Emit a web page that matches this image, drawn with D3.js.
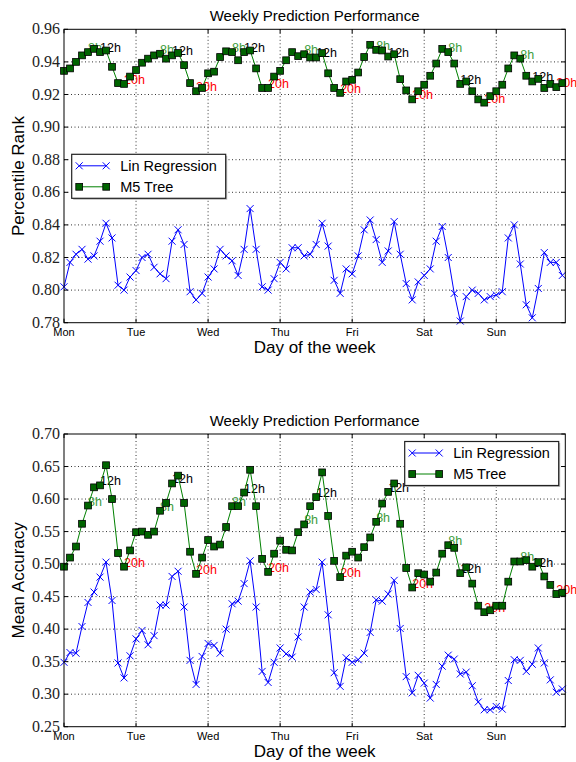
<!DOCTYPE html>
<html>
<head>
<meta charset="utf-8">
<script src="https://cdn.jsdelivr.net/npm/d3@7"></script>
<style>
    body { margin: 0; background: #fff; }
    svg text { font-family: "Liberation Sans", Arial, sans-serif; }
    .ytick { font-family: "Liberation Serif", "Times New Roman", serif !important; }
</style>
</head>
<body>
<div id="chart"></div>
<script>
// day ticks on the x axis
const days = ["Mon", "Tue", "Wed", "Thu", "Fri", "Sat", "Sun"];
// hour-of-day notes on the M5 curve, repeated each day
const markHours = [8, 12, 20];
const markTexts = ["8h", "12h", "20h"];
const seriesNames = ["Lin Regression", "M5 Tree"];

// one value every 2 hours, starting Monday 0h (12 per day)
const rankLin = [
    0.802, 0.817, 0.822, 0.825, 0.819, 0.821, 0.830, 0.841, 0.832, 0.803, 0.800, 0.808,
    0.812, 0.820, 0.822, 0.814, 0.810, 0.807, 0.830, 0.837, 0.828, 0.799, 0.794, 0.798,
    0.808, 0.813, 0.825, 0.821, 0.818, 0.809, 0.825, 0.850, 0.825, 0.802, 0.800, 0.807,
    0.817, 0.813, 0.826, 0.826, 0.821, 0.822, 0.828, 0.841, 0.827, 0.806, 0.798, 0.813,
    0.810, 0.821, 0.837, 0.843, 0.831, 0.817, 0.824, 0.842, 0.822, 0.804, 0.794, 0.805,
    0.809, 0.813, 0.830, 0.839, 0.820, 0.798, 0.781, 0.796, 0.800, 0.798, 0.794, 0.796,
    0.797, 0.799, 0.832, 0.840, 0.816, 0.791, 0.783, 0.801, 0.823, 0.817, 0.817, 0.809
];
const rankM5 = [
    0.9345, 0.936, 0.940, 0.944, 0.946, 0.948, 0.946, 0.947, 0.937, 0.927, 0.9265, 0.931,
    0.935, 0.9395, 0.942, 0.944, 0.945, 0.942, 0.944, 0.9455, 0.938, 0.927, 0.922, 0.924,
    0.933, 0.934, 0.943, 0.9465, 0.946, 0.941, 0.946, 0.947, 0.936, 0.924, 0.924, 0.931,
    0.9345, 0.941, 0.946, 0.9435, 0.9447, 0.9427, 0.9427, 0.9454, 0.933, 0.924, 0.921, 0.928,
    0.929, 0.9335, 0.943, 0.9505, 0.9474, 0.947, 0.9433, 0.9447, 0.9294, 0.9225, 0.917, 0.922,
    0.926, 0.9315, 0.939, 0.948, 0.946, 0.939, 0.9265, 0.928, 0.922, 0.917, 0.915, 0.919,
    0.922, 0.926, 0.936, 0.944, 0.942, 0.9315, 0.928, 0.9296, 0.924, 0.9265, 0.9245, 0.927
];
const accLin = [
    0.349, 0.364, 0.363, 0.404, 0.441, 0.457, 0.480, 0.503, 0.444, 0.348, 0.325, 0.359,
    0.385, 0.398, 0.376, 0.390, 0.437, 0.437, 0.481, 0.489, 0.434, 0.352, 0.315, 0.358,
    0.378, 0.375, 0.363, 0.400, 0.439, 0.443, 0.470, 0.505, 0.434, 0.335, 0.318, 0.349,
    0.371, 0.362, 0.357, 0.388, 0.434, 0.457, 0.461, 0.503, 0.422, 0.333, 0.312, 0.356,
    0.349, 0.353, 0.363, 0.395, 0.445, 0.443, 0.454, 0.475, 0.401, 0.327, 0.302, 0.329,
    0.317, 0.294, 0.315, 0.343, 0.360, 0.354, 0.331, 0.334, 0.313, 0.288, 0.276, 0.276,
    0.281, 0.277, 0.321, 0.353, 0.352, 0.335, 0.346, 0.371, 0.348, 0.322, 0.303, 0.308
];
const accM5 = [
    0.496, 0.510, 0.527, 0.562, 0.590, 0.618, 0.621, 0.652, 0.600, 0.517, 0.496, 0.521,
    0.549, 0.550, 0.545, 0.550, 0.582, 0.594, 0.624, 0.636, 0.594, 0.519, 0.485, 0.510,
    0.537, 0.527, 0.530, 0.557, 0.589, 0.589, 0.610, 0.645, 0.589, 0.508, 0.488, 0.516,
    0.536, 0.522, 0.521, 0.549, 0.561, 0.589, 0.603, 0.641, 0.574, 0.505, 0.480, 0.513,
    0.519, 0.510, 0.526, 0.541, 0.565, 0.593, 0.611, 0.624, 0.562, 0.494, 0.464, 0.486,
    0.484, 0.473, 0.487, 0.516, 0.529, 0.525, 0.486, 0.495, 0.470, 0.436, 0.426, 0.429,
    0.436, 0.436, 0.473, 0.504, 0.504, 0.506, 0.496, 0.503, 0.481, 0.468, 0.454, 0.456
];

const rankTicks = [0.78, 0.80, 0.82, 0.84, 0.86, 0.88, 0.90, 0.92, 0.94, 0.96];
const accTicks = [0.25, 0.30, 0.35, 0.40, 0.45, 0.50, 0.55, 0.60, 0.65, 0.70];

const W = 576, H = 762;
const left = 64, right = 565.3;

const svg = d3.select("#chart").append("svg")
    .attr("width", W)
    .attr("height", H);

// hours since Monday 0h
const x = d3.scaleLinear().domain([0, 167]).range([left, right]);

function drawPanel(cfg) {
    let y = d3.scaleLinear().domain([cfg.ticks[0], cfg.ticks[cfg.ticks.length - 1]])
        .range([cfg.bottom, cfg.top]);
    let g = svg.append("g");
    let dayHours = days.map((d, i) => i * 24);

    // dotted grid
    g.selectAll(".hgrid").data(cfg.ticks.slice(1, -1)).enter().append("line")
        .attr("x1", left).attr("x2", right)
        .attr("y1", d => y(d)).attr("y2", d => y(d))
        .attr("stroke", "#000").attr("stroke-width", 0.8)
        .attr("stroke-dasharray", "1,2.5");
    g.selectAll(".vgrid").data(dayHours.slice(1)).enter().append("line")
        .attr("x1", d => x(d)).attr("x2", d => x(d))
        .attr("y1", cfg.top).attr("y2", cfg.bottom)
        .attr("stroke", "#000").attr("stroke-width", 0.8)
        .attr("stroke-dasharray", "1,2.5");

    // hour notes, drawn under the markers
    let notes = [];
    days.forEach((d, di) => {
        markHours.forEach((h, hi) => {
            let idx = (di * 24 + h) / 2;
            notes.push({h: di * 24 + h, v: cfg.m5[idx], text: markTexts[hi], k: hi});
        });
    });
    let noteColors = ["#3c9c3c", "#000", "#ff0000"];
    g.selectAll(".note").data(notes).enter().append("text")
        .attr("x", d => x(d.h))
        .attr("y", d => y(d.v))
        .attr("font-size", 12.5)
        .attr("fill", d => noteColors[d.k])
        .text(d => d.text);

    let line = d3.line().x((d, i) => x(i * 2)).y(d => y(d));

    g.append("path").datum(cfg.lin)
        .attr("d", line).attr("fill", "none")
        .attr("stroke", "#0000ff").attr("stroke-width", 1);
    g.selectAll(".xm").data(cfg.lin).enter().append("path")
        .attr("transform", (d, i) => `translate(${x(i * 2)},${y(d)})`)
        .attr("d", "M-3.5,-3.5L3.5,3.5M-3.5,3.5L3.5,-3.5")
        .attr("stroke", "#0000ff").attr("stroke-width", 1);

    g.append("path").datum(cfg.m5)
        .attr("d", line).attr("fill", "none")
        .attr("stroke", "#008000").attr("stroke-width", 1);
    g.selectAll(".sq").data(cfg.m5).enter().append("rect")
        .attr("x", (d, i) => x(i * 2) - 3.4)
        .attr("y", d => y(d) - 3.4)
        .attr("width", 6.8).attr("height", 6.8)
        .attr("fill", "#006400")
        .attr("stroke", "#000").attr("stroke-width", 0.8);

    // frame
    g.append("rect")
        .attr("x", left).attr("y", cfg.top)
        .attr("width", right - left).attr("height", cfg.bottom - cfg.top)
        .attr("fill", "none").attr("stroke", "#000").attr("stroke-width", 1);

    // inward ticks
    cfg.ticks.forEach(t => {
        g.append("line").attr("x1", left).attr("x2", left + 4)
            .attr("y1", y(t)).attr("y2", y(t)).attr("stroke", "#000");
        g.append("line").attr("x1", right).attr("x2", right - 4)
            .attr("y1", y(t)).attr("y2", y(t)).attr("stroke", "#000");
    });
    dayHours.forEach(h => {
        g.append("line").attr("x1", x(h)).attr("x2", x(h))
            .attr("y1", cfg.bottom).attr("y2", cfg.bottom - 4).attr("stroke", "#000");
        g.append("line").attr("x1", x(h)).attr("x2", x(h))
            .attr("y1", cfg.top).attr("y2", cfg.top + 4).attr("stroke", "#000");
    });

    // tick labels
    g.selectAll(".ytick").data(cfg.ticks).enter().append("text")
        .attr("class", "ytick")
        .attr("x", left - 4)
        .attr("y", d => y(d) + 5)
        .attr("text-anchor", "end")
        .attr("font-size", 16)
        .attr("fill", "#222")
        .text(d => d.toFixed(2));
    g.selectAll(".xtick").data(days).enter().append("text")
        .attr("x", (d, i) => x(i * 24))
        .attr("y", cfg.bottom + 13.5)
        .attr("text-anchor", "middle")
        .attr("font-size", 11)
        .text(d => d);

    // titles
    g.append("text")
        .attr("x", (left + right) / 2).attr("y", cfg.top - 8.5)
        .attr("text-anchor", "middle").attr("font-size", 15)
        .text("Weekly Prediction Performance");
    g.append("text")
        .attr("x", (left + right) / 2).attr("y", cfg.bottom + 30.5)
        .attr("text-anchor", "middle").attr("font-size", 17)
        .text("Day of the week");
    g.append("text")
        .attr("transform", `translate(24,${(cfg.top + cfg.bottom) / 2}) rotate(-90)`)
        .attr("text-anchor", "middle").attr("font-size", 17)
        .text(cfg.yLabel);

    // legend
    let lg = g.append("g").attr("transform", `translate(${cfg.legendX},${cfg.legendY})`);
    lg.append("rect")
        .attr("x", 1.5).attr("y", 1.5).attr("width", 154).attr("height", 44)
        .attr("fill", "#bbb");
    lg.append("rect")
        .attr("width", 154).attr("height", 44)
        .attr("fill", "#fff").attr("stroke", "#222").attr("stroke-width", 1.2);
    let rows = [
        {name: seriesNames[0], color: "#0000ff", cy: 11.5},
        {name: seriesNames[1], color: "#008000", cy: 32.5}
    ];
    rows.forEach((r, ri) => {
        lg.append("line").attr("x1", 7.5).attr("x2", 34.5)
            .attr("y1", r.cy).attr("y2", r.cy)
            .attr("stroke", r.color).attr("stroke-width", 1);
        [7.5, 34.5].forEach(mx => {
            if (ri === 0) {
                lg.append("path")
                    .attr("transform", `translate(${mx},${r.cy})`)
                    .attr("d", "M-3.5,-3.5L3.5,3.5M-3.5,3.5L3.5,-3.5")
                    .attr("stroke", "#0000ff").attr("stroke-width", 1);
            } else {
                lg.append("rect")
                    .attr("x", mx - 3.4).attr("y", r.cy - 3.4)
                    .attr("width", 6.8).attr("height", 6.8)
                    .attr("fill", "#006400").attr("stroke", "#000").attr("stroke-width", 0.8);
            }
        });
        lg.append("text")
            .attr("x", 48.5).attr("y", r.cy + 5.2)
            .attr("font-size", 14.5)
            .text(r.name);
    });
}

drawPanel({
    top: 29.3, bottom: 322.7,
    ticks: rankTicks, lin: rankLin, m5: rankM5,
    yLabel: "Percentile Rank",
    legendX: 71.7, legendY: 154.3
});

drawPanel({
    top: 434, bottom: 726.7,
    ticks: accTicks, lin: accLin, m5: accM5,
    yLabel: "Mean Accuracy",
    legendX: 404.7, legendY: 441.5
});
</script>
</body>
</html>
